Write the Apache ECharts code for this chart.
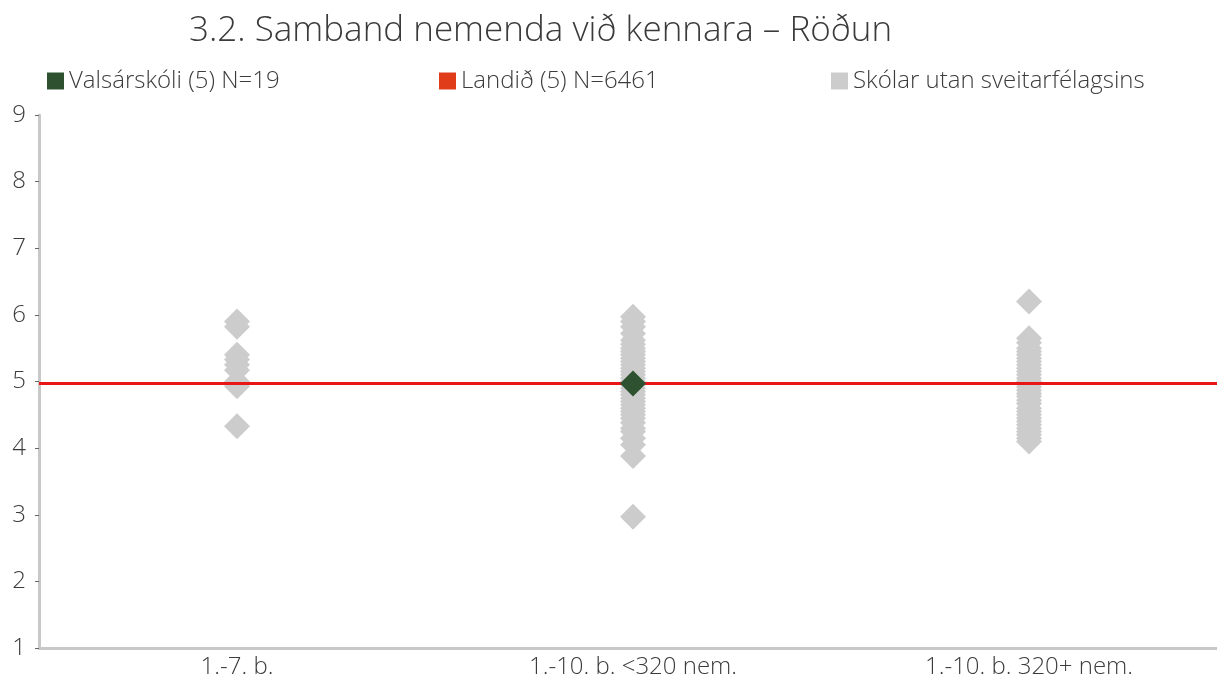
<!DOCTYPE html>
<html>
<head>
<meta charset="utf-8">
<script src="https://cdn.jsdelivr.net/npm/echarts@6/dist/echarts.min.js"></script>
<style>html,body{margin:0;padding:0;background:#fff}#c{width:1217px;height:677px}</style>
</head>
<body>
<div id="c"></div>
<script>
// ---- data ----
const titleText = '3.2. Samband nemenda við kennara – Röðun';
const categories = ['1.-7. b.', '1.-10. b. <320 nem.', '1.-10. b. 320+ nem.'];
const yTicks = [1, 2, 3, 4, 5, 6, 7, 8, 9];
const schoolName = 'Valsárskóli (5) N=19';
const nationName = 'Landið (5) N=6461';
const othersName = 'Skólar utan sveitarfélagsins';
// Valsárskóli: [category index, value]
const schoolCategory = 1;
const schoolValue = 4.97;
// Landið average
const nationValue = 4.97;
// other schools per category
const others1 = [5.9, 5.82, 5.4, 5.33, 5.25, 5.17, 5.0, 4.93, 4.33];
const others2 = [5.97, 5.9, 5.82, 5.72, 5.62, 5.56, 5.5, 5.45, 5.4, 5.35, 5.3, 5.25, 5.2, 5.15, 5.1, 5.05, 5.0, 4.95, 4.9, 4.85, 4.8, 4.75, 4.7, 4.65, 4.6, 4.55, 4.5, 4.45, 4.38, 4.3, 4.25, 4.15, 4.05, 3.88, 2.97];
const others3 = [6.2, 5.65, 5.58, 5.5, 5.45, 5.4, 5.35, 5.3, 5.25, 5.2, 5.15, 5.1, 5.05, 5.0, 4.97, 4.92, 4.87, 4.82, 4.78, 4.72, 4.67, 4.6, 4.55, 4.5, 4.45, 4.4, 4.35, 4.3, 4.25, 4.2, 4.15, 4.1];

// ---- build ----
const othersData = []
  .concat(others1.map(v => [0, v]))
  .concat(others2.map(v => [1, v]))
  .concat(others3.map(v => [2, v]));

const FONT = '"Open Sans", Lato, sans-serif';
const txt = '#3c3c3c';
const legendText = {fontFamily: FONT, fontSize: 24, fontWeight: 300, color: txt};

const chart = echarts.init(document.getElementById('c'), null, {renderer: 'canvas'});
chart.setOption({
  animation: false,
  backgroundColor: '#fff',
  title: {
    text: titleText,
    left: 184, top: 9,
    textStyle: {fontFamily: FONT, fontSize: 35, fontWeight: 300, color: '#3a3a3a'}
  },
  legend: [
    {data: [{name: schoolName, icon: 'rect'}], left: 42, top: 64, itemWidth: 17, itemHeight: 17, textStyle: legendText},
    {data: [{name: nationName, icon: 'rect'}], left: 434, top: 64, itemWidth: 17, itemHeight: 17, textStyle: legendText},
    {data: [{name: othersName, icon: 'rect'}], left: 826, top: 64, itemWidth: 17, itemHeight: 17, textStyle: legendText}
  ],
  grid: {left: 39, width: 1188, top: 115, bottom: 29, containLabel: false, outerBoundsMode: 'none'},
  xAxis: {
    type: 'category',
    data: categories,
    boundaryGap: true,
    axisLine: {lineStyle: {color: '#c8c8c8', width: 3}},
    axisTick: {show: false},
    axisLabel: {fontFamily: FONT, fontSize: 24, fontWeight: 300, color: txt, margin: 7}
  },
  yAxis: {
    type: 'value',
    min: yTicks[0], max: yTicks[yTicks.length - 1], interval: 1,
    axisLine: {show: true, lineStyle: {color: '#c8c8c8', width: 3}},
    axisTick: {show: true, length: 4, lineStyle: {color: '#666', width: 1}},
    splitLine: {show: false},
    axisLabel: {fontFamily: FONT, fontSize: 24, fontWeight: 300, color: txt, margin: 13}
  },
  series: [
    {
      name: othersName,
      type: 'scatter',
      symbol: 'diamond',
      symbolSize: 26,
      itemStyle: {color: '#cccccc', opacity: 1},
      data: othersData,
      z: 2
    },
    {
      name: nationName,
      type: 'scatter',
      itemStyle: {color: '#e03c1a', opacity: 1},
      data: [],
      markLine: {
        silent: true,
        symbol: ['none', 'none'],
        label: {show: false},
        lineStyle: {color: '#e81616', width: 3, type: 'solid', opacity: 1},
        data: [{yAxis: nationValue}]
      },
      z: 3
    },
    {
      name: schoolName,
      type: 'scatter',
      symbol: 'diamond',
      symbolSize: 26,
      itemStyle: {color: '#2e5230', opacity: 1},
      data: [[schoolCategory, schoolValue]],
      z: 5
    }
  ]
});
</script>
</body>
</html>
